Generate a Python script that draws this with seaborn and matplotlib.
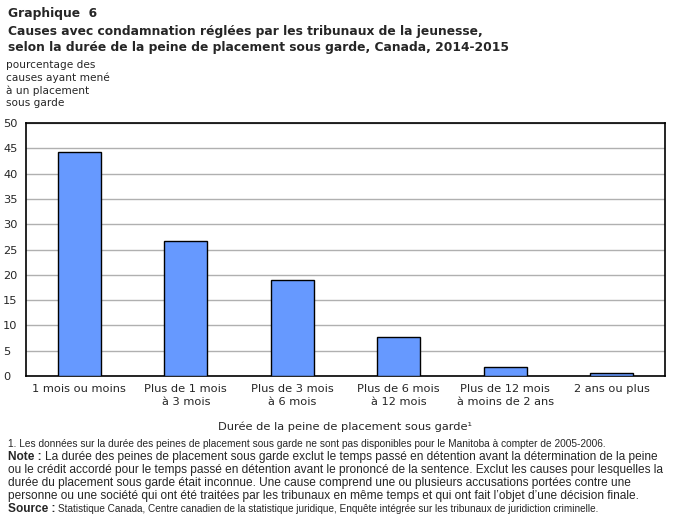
import pandas as pd
import seaborn as sns
import matplotlib.pyplot as plt

categories = ['1 mois ou moins', 'Plus de 1 mois\nà 3 mois', 'Plus de 3 mois\nà 6 mois',
              'Plus de 6 mois\nà 12 mois', 'Plus de 12 mois\nà moins de 2 ans', '2 ans ou plus']
values = [44.2, 26.6, 19.0, 7.8, 1.7, 0.5]
yticks = [0, 5, 10, 15, 20, 25, 30, 35, 40, 45, 50]

df = pd.DataFrame({'cat': categories, 'pct': values})

sns.set_style('white')
plt.rcParams['font.family'] = ['DejaVu Sans']

W, H = 678, 521
fig = plt.figure(figsize=(W / 100, H / 100), dpi=100)
ax = fig.add_axes([26 / W, 1 - 376 / H, (665 - 26) / W, (376 - 123) / H])

sns.barplot(data=df, x='cat', y='pct', color='#6699FF', edgecolor='black',
            linewidth=1, width=0.4, saturation=1, ax=ax, zorder=3)

ax.set_ylim(0, 50)
ax.set_yticks(yticks)
ax.set_yticklabels([str(v) for v in yticks], fontsize=8.2, ha='left')
ax.tick_params(axis='y', length=0, pad=16.5)
ax.tick_params(axis='x', length=0, pad=6, labelsize=8.2)
for lbl in ax.get_xticklabels():
    lbl.set_linespacing(1.35)
ax.yaxis.grid(True, color='#b0b0b0', linewidth=1, zorder=0)
for s in ax.spines.values():
    s.set_color('black')
    s.set_linewidth(1.2)
ax.set_ylabel('')
ax.set_xlabel('Durée de la peine de placement sous garde¹', fontsize=8.2, labelpad=10)


def fy(px):
    return 1 - px / H


# titre
fig.text(8 / W, fy(14), 'Graphique  6', fontsize=8.8, fontweight='bold', va='center')
fig.text(8 / W, fy(31), 'Causes avec condamnation réglées par les tribunaux de la jeunesse,',
         fontsize=8.8, fontweight='bold', va='center')
fig.text(8 / W, fy(47), 'selon la durée de la peine de placement sous garde, Canada, 2014-2015',
         fontsize=8.8, fontweight='bold', va='center')

ylab = ['pourcentage des', 'causes ayant mené', 'à un placement', 'sous garde']
for i, t in enumerate(ylab):
    fig.text(6 / W, fy(65 + 12.7 * i), t, fontsize=7.6, va='center')

# notes
notes_font = ['Liberation Sans Narrow', 'Liberation Sans']
lines = [
    ('', '1. Les données sur la durée des peines de placement sous garde ne sont pas '
         'disponibles pour le Manitoba à compter de 2005-2006.', 7.3),
    ('Note :', 'La durée des peines de placement sous garde exclut le temps passé en '
               'détention avant la détermination de la peine', 8.6),
    ('', 'ou le crédit accordé pour le temps passé en détention avant le prononcé de la sentence. '
         'Exclut les causes pour lesquelles la', 8.6),
    ('', 'durée du placement sous garde était inconnue. Une cause comprend une ou plusieurs '
         'accusations portées contre une', 8.6),
    ('', 'personne ou une société qui ont été traitées par les tribunaux en même temps et qui ont '
         'fait l’objet d’une décision finale.', 8.6),
    ('Source :', 'Statistique Canada, Centre canadien de la statistique juridique, '
                 'Enquête intégrée sur les tribunaux de juridiction criminelle.', 7.2),
]
renderer = fig.canvas.get_renderer()
for i, (bold, txt, fs) in enumerate(lines):
    y = fy(444 + 13.1 * i)
    x = 8 / W
    if bold:
        b = fig.text(x, y, bold, fontsize=8.6, fontweight='bold', family=notes_font, va='center')
        x = b.get_window_extent(renderer).x1 / W + 3 / W
    fig.text(x, y, txt, fontsize=fs, family=notes_font, va='center')

fig.savefig('out.png', dpi=100)
